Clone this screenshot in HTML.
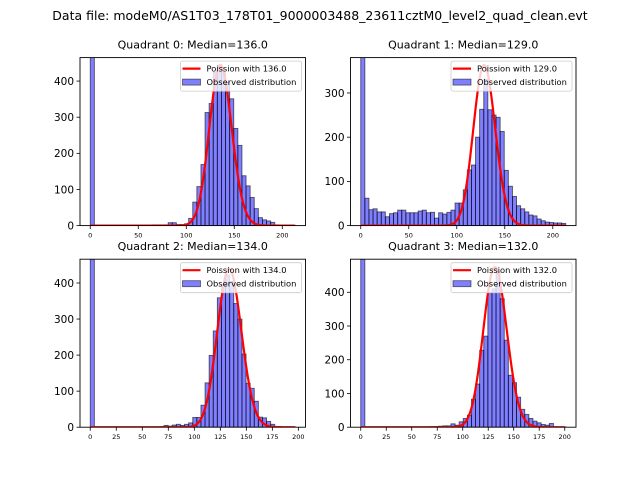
<!DOCTYPE html>
<html><head><meta charset="utf-8"><style>
body{margin:0;background:#fff}
svg text{font-family:"DejaVu Sans","Liberation Sans",sans-serif}
</style></head><body>
<svg id="fig" width="640" height="480" viewBox="0 0 640 480" xmlns="http://www.w3.org/2000/svg">
<rect width="640" height="480" fill="#fff"/>
<text x="320" y="20" font-size="12.5" text-anchor="middle">Data file: modeM0/AS1T03_178T01_9000003488_23611cztM0_level2_quad_clean.evt</text>
</svg>
<script>
const q0Counts=[1500,1,1,1,1,1,1,1,1,1,1,1,1,1,1,2,2,2,2,8,8,3,3,5,20,65,108,169,313,338,425,440,423,397,351,269,222,138,110,78,47,22,16,13,9,2,1,1,1,1];
const q1Counts=[1500,62,36,38,31,31,20,27,29,35,35,29,29,29,33,35,29,30,17,29,26,30,35,51,51,81,126,137,200,263,331,262,250,245,213,125,89,66,45,38,31,24,22,15,11,8,7,6,6,5];
const q2Counts=[1500,1,1,1,1,1,1,1,1,1,1,1,1,1,1,1,1,2,5,3,6,8,5,8,12,27,27,61,123,199,267,359,394,422,404,343,300,203,122,108,72,28,26,16,8,2,1,1,1,1];
const q3Counts=[1500,1,1,1,1,1,1,1,1,1,1,1,1,1,1,1,1,2,2,3,4,4,10,6,16,26,36,83,128,228,270,400,410,460,381,258,154,132,89,53,38,26,18,13,8,6,11,1,1,1];
const medians=[136.0,129.0,134.0,132.0];
const poissonPeaks=[445,363,440,475];
const binWidths=[4.27,4.27,3.94,4.02];
const yMax=[465,380,466,498];
const yTicks=[[0,100,200,300,400],[0,100,200,300],[0,100,200,300,400],[0,100,200,300,400]];
const xTicks=[[0,50,100,150,200],[0,50,100,150,200],[0,25,50,75,100,125,150,175,200],[0,25,50,75,100,125,150,175,200]];
const allCounts=[q0Counts,q1Counts,q2Counts,q3Counts];
const NS='http://www.w3.org/2000/svg';
const svg=document.getElementById('fig');
function mk(tag,attrs,parent){const e=document.createElementNS(NS,tag);for(const k in attrs)e.setAttribute(k,attrs[k]);(parent||svg).appendChild(e);return e;}
function lnGamma(z){
  let s=0;while(z<8){s-=Math.log(z);z+=1;}
  return s+(z-0.5)*Math.log(z)-z+0.5*Math.log(2*Math.PI)+1/(12*z)-1/(360*z*z*z);
}
const boxes=[[80,57.6,305.5,225.6],[350.5,57.6,576,225.6],[80,259.2,305.5,427.2],[350.5,259.2,576,427.2]];
for(let q=0;q<4;q++){
  const [L,T,R,B]=boxes[q];const counts=allCounts[q];const bw=binWidths[q];
  const dmax=counts.length*bw;const pad=dmax*0.05;
  const xs=v=>L+(v+pad)/(dmax+2*pad)*(R-L);
  const ys=v=>B-v/yMax[q]*(B-T);
  const g=mk('g',{});
  
  
  mk('clipPath',{id:'c'+q},g).appendChild((()=>{const r=document.createElementNS(NS,'rect');r.setAttribute('x',L);r.setAttribute('y',T);r.setAttribute('width',R-L);r.setAttribute('height',B-T);return r;})());
  const pg=mk('g',{'clip-path':'url(#c'+q+')'},g);
  counts.forEach((c,i)=>{
    const r=mk('rect',{x:xs(i*bw),y:ys(c),width:xs(bw)-xs(0),height:B-ys(c),fill:'rgba(0,0,255,0.5)',stroke:'rgba(0,0,0,0.6)','stroke-width':0.9},pg);
    
    
  });
  const lam=medians[q];const scale=poissonPeaks[q]*Math.sqrt(2*Math.PI*lam);
  let d='';for(let k=0;k<=Math.floor(dmax);k++){const p=Math.exp(k*Math.log(lam)-lam-lnGamma(k+1))*scale;d+=(k?'L':'M')+xs(k).toFixed(2)+','+ys(p).toFixed(2);}
  const pl=mk('path',{d:d,fill:'none',stroke:'#ff0000','stroke-width':2.2},pg);
  
  
  mk('rect',{x:L,y:T,width:R-L,height:B-T,fill:'none',stroke:'#000','stroke-width':0.9},g);
  yTicks[q].forEach(t=>{mk('line',{x1:L-3.5,x2:L,y1:ys(t),y2:ys(t),stroke:'#000','stroke-width':0.8},g);
    const tx=mk('text',{x:L-6,y:ys(t)+3.8,'font-size':10.5,'text-anchor':'end'},g);tx.textContent=t;
    
    });
  xTicks[q].forEach(t=>{mk('line',{x1:xs(t),x2:xs(t),y1:B,y2:B+3.5,stroke:'#000','stroke-width':0.8},g);
    const tx=mk('text',{x:xs(t),y:B+12,'font-size':6.5,'text-anchor':'middle'},g);tx.textContent=t;
    
    });
  const tt=mk('text',{x:(L+R)/2,y:T-9,'font-size':11,'text-anchor':'middle'},g);tt.textContent='Quadrant '+q+': Median='+lam.toFixed(1);
  
  
  const lg=mk('g',{},g);
  
  
  const lx=R-125,ly=T+3.5;
  mk('rect',{x:lx,y:ly,width:121,height:30,rx:2,fill:'rgba(255,255,255,0.8)',stroke:'#ccc','stroke-width':0.8},lg);
  mk('line',{x1:lx+2,x2:lx+20,y1:ly+7.5,y2:ly+7.5,stroke:'#ff0000','stroke-width':2.2},lg);
  const t1=mk('text',{x:lx+26,y:ly+10.5,'font-size':8.3},lg);t1.textContent='Poission with '+lam.toFixed(1);
  mk('rect',{x:lx+2,y:ly+18,width:18,height:6,fill:'rgba(0,0,255,0.5)',stroke:'rgba(0,0,0,0.6)','stroke-width':0.8},lg);
  const t2=mk('text',{x:lx+26,y:ly+24,'font-size':8.3},lg);t2.textContent='Observed distribution';
}
</script>
</body></html>
